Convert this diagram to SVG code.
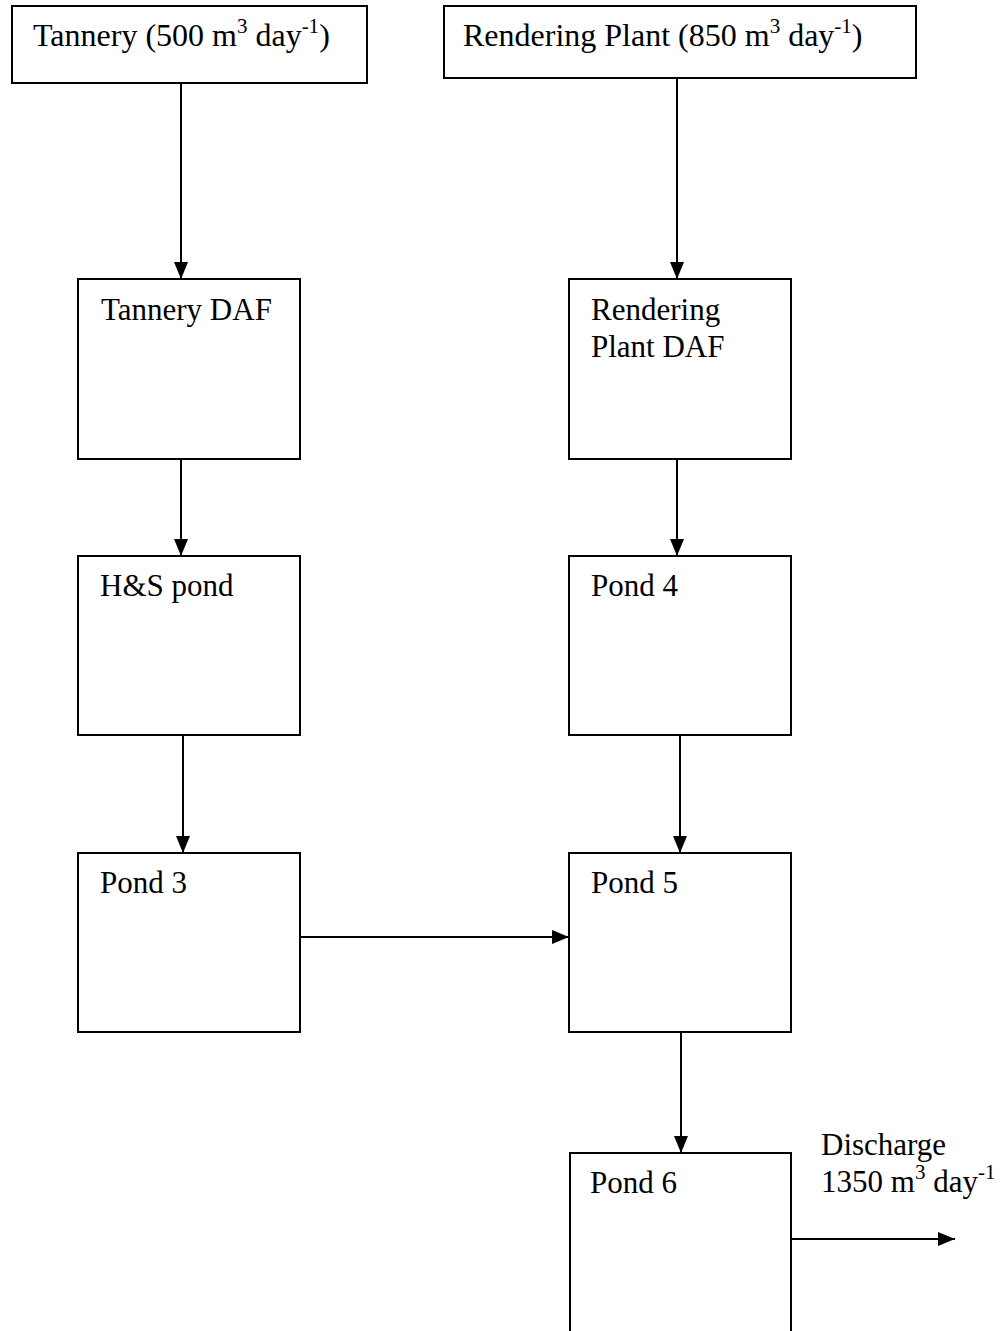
<svg xmlns="http://www.w3.org/2000/svg" width="1007" height="1331" viewBox="0 0 1007 1331">
  <style>
    .box { fill: #fff; stroke: #000; stroke-width: 2; }
    .lbl { font-family: "Liberation Serif", "Times New Roman", serif; font-size: 31px; fill: #000; }
    .top { font-size: 32px; }
    .sup { font-size: 21px; }
    .flow { stroke: #000; stroke-width: 2; fill: none; marker-end: url(#head); }
  </style>
  <defs>
    <marker id="head" markerUnits="userSpaceOnUse" markerWidth="17" markerHeight="14" refX="17" refY="7" orient="auto">
      <path d="M0,0 L17,7 L0,14 Z" fill="#000"/>
    </marker>
  </defs>

  <g id="connectors">
    <line class="flow" x1="181" y1="83" x2="181" y2="279"/>
    <line class="flow" x1="677" y1="78" x2="677" y2="279"/>
    <line class="flow" x1="181" y1="459" x2="181" y2="556"/>
    <line class="flow" x1="677" y1="459" x2="677" y2="556"/>
    <line class="flow" x1="183" y1="735" x2="183" y2="853"/>
    <line class="flow" x1="680" y1="735" x2="680" y2="853"/>
    <line class="flow" x1="300" y1="937" x2="569" y2="937"/>
    <line class="flow" x1="681" y1="1032" x2="681" y2="1153"/>
    <line class="flow" x1="791" y1="1239" x2="955" y2="1239"/>
  </g>

  <g id="tannery">
    <rect class="box" x="12" y="6" width="355" height="77"/>
    <text class="lbl top" x="33" y="46">Tannery (500 m<tspan class="sup" dy="-13">3</tspan><tspan dy="13"> day</tspan><tspan class="sup" dy="-13">-1</tspan><tspan dy="13">)</tspan></text>
  </g>

  <g id="rendering-plant">
    <rect class="box" x="444" y="6" width="472" height="72"/>
    <text class="lbl top" x="463" y="46">Rendering Plant (850 m<tspan class="sup" dy="-13">3</tspan><tspan dy="13"> day</tspan><tspan class="sup" dy="-13">-1</tspan><tspan dy="13">)</tspan></text>
  </g>

  <g id="tannery-daf">
    <rect class="box" x="78" y="279" width="222" height="180"/>
    <text class="lbl" x="101" y="320">Tannery DAF</text>
  </g>

  <g id="rendering-plant-daf">
    <rect class="box" x="569" y="279" width="222" height="180"/>
    <text class="lbl" x="591" y="320">Rendering</text>
    <text class="lbl" x="591" y="357">Plant DAF</text>
  </g>

  <g id="hs-pond">
    <rect class="box" x="78" y="556" width="222" height="179"/>
    <text class="lbl" x="100" y="596">H&amp;S pond</text>
  </g>

  <g id="pond-4">
    <rect class="box" x="569" y="556" width="222" height="179"/>
    <text class="lbl" x="591" y="596">Pond 4</text>
  </g>

  <g id="pond-3">
    <rect class="box" x="78" y="853" width="222" height="179"/>
    <text class="lbl" x="100" y="893">Pond 3</text>
  </g>

  <g id="pond-5">
    <rect class="box" x="569" y="853" width="222" height="179"/>
    <text class="lbl" x="591" y="893">Pond 5</text>
  </g>

  <g id="pond-6">
    <rect class="box" x="570" y="1153" width="221" height="200"/>
    <text class="lbl" x="590" y="1193">Pond 6</text>
  </g>

  <g id="discharge-label">
    <text class="lbl" x="821" y="1155">Discharge</text>
    <text class="lbl" x="821" y="1192">1350 m<tspan class="sup" dy="-13">3</tspan><tspan dy="13"> day</tspan><tspan class="sup" dy="-13">-1</tspan></text>
  </g>
</svg>
